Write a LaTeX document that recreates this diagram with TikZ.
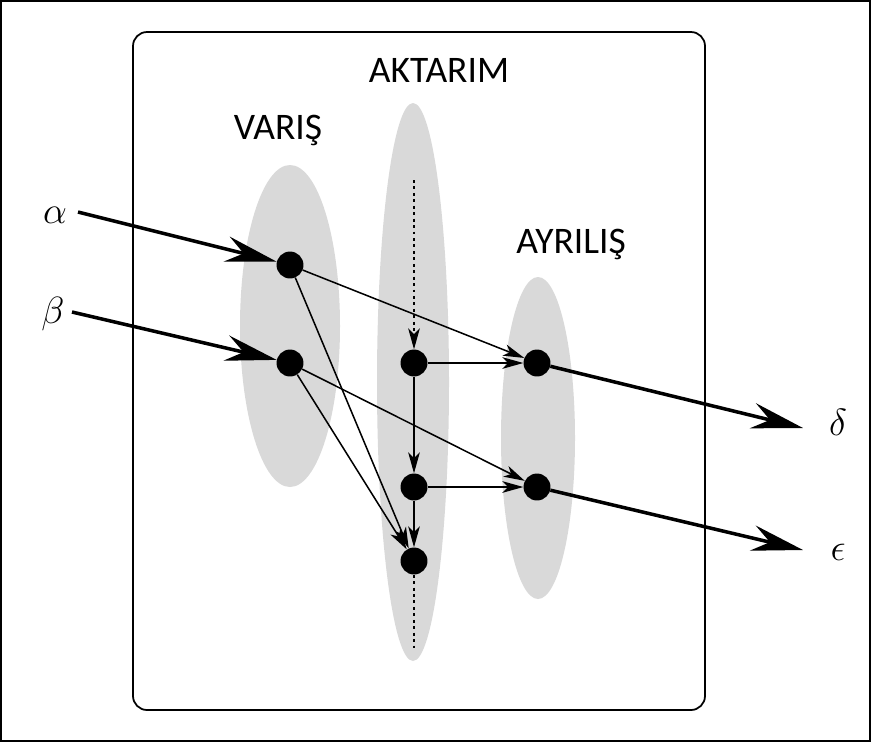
\documentclass[tikz,border=0pt]{standalone}
\usepackage{fontspec}
\setmainfont{Carlito}
\usetikzlibrary{arrows.meta}
\definecolor{blobgray}{RGB}{217,217,217}
\tikzset{
  dot/.style={circle,fill=black,inner sep=0pt,minimum size=23pt},
  lbl/.style={font=\fontsize{32}{38}\selectfont},
  greek/.style={font=\Huge,scale=1.3},
  thick arrow/.style={line width=3pt,-{Stealth[length=44pt,width=22pt,inset=15pt]}},
  thin arrow/.style={line width=1.3pt,-{Stealth[length=18pt,width=10pt,inset=5pt]}},
  dotline/.style={line width=1.2pt,dash pattern=on 2.5pt off 3pt}
}
\begin{document}
\begin{tikzpicture}[x=0.03cm,y=-0.03cm]
  \useasboundingbox (0,0) rectangle (871,742);
  \draw[line width=1pt] (1,1) rectangle (870,741);
  \draw[line width=1.5pt,rounded corners=12pt] (133,32) rectangle (705,710);
  % the three stages
  \fill[blobgray] (290,326) ellipse [x radius=50,y radius=161];
  \fill[blobgray] (413,382) ellipse [x radius=36,y radius=279];
  \fill[blobgray] (538,438) ellipse [x radius=37,y radius=161];
  \node[lbl] (varis) at (278,130) {VARIŞ};
  \node[lbl] (aktarim) at (439,70) {AKTARIM};
  \node[lbl] (ayrilis) at (571,244) {AYRILIŞ};
  % states
  \node[dot] (a1) at (290,265) {};
  \node[dot] (b1) at (290,363) {};
  \node[dot] (t1) at (414,363) {};
  \node[dot] (t2) at (414,487) {};
  \node[dot] (t3) at (414,561) {};
  \node[dot] (d1) at (537,363) {};
  \node[dot] (d2) at (537,487) {};
  % in and out
  \node[greek] (alpha) at (55,215) {$\alpha$};
  \node[greek] (beta) at (53,314) {$\beta$};
  \node[greek] (delta) at (838,422) {$\delta$};
  \node[greek] (eps) at (838,552) {$\epsilon$};
  \coordinate (ain) at (78,212);
  \coordinate (bin) at (72,312);
  \coordinate (dout) at (803,428);
  \coordinate (eout) at (803,550);
  \coordinate (ttop) at (414,180);
  \coordinate (tbot) at (414,648);
  \draw[thick arrow] (ain) -- (a1);
  \draw[thick arrow] (bin) -- (b1);
  \draw[thick arrow] (d1) -- (dout);
  \draw[thick arrow] (d2) -- (eout);
  \draw[thin arrow] (a1) -- (d1);
  \draw[thin arrow] (a1) -- (t3);
  \draw[thin arrow] (b1) -- (t3);
  \draw[thin arrow] (b1) -- (d2);
  \draw[thin arrow] (t1) -- (d1);
  \draw[thin arrow] (t2) -- (d2);
  \draw[thin arrow] (t1) -- (t2);
  \draw[thin arrow] (t2) -- (t3);
  \draw[dotline,-{Stealth[length=18pt,width=10pt,inset=5pt]}] (ttop) -- (t1);
  \draw[dotline] (t3) -- (tbot);
\end{tikzpicture}
\end{document}
